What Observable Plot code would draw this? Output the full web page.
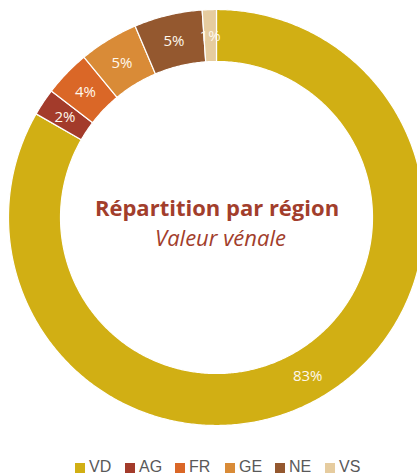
<!DOCTYPE html>
<html>
<head>
<meta charset="utf-8">
<script src="https://cdn.jsdelivr.net/npm/d3@7"></script>
<script src="https://cdn.jsdelivr.net/npm/@observablehq/plot@0.6"></script>
<style>
  html, body { margin: 0; padding: 0; background: #fff; }
  #chart svg { display: block; }
  #legend { display: flex; justify-content: flex-start; padding-top: 17px; padding-left: 75px;
            font-family: "Liberation Sans", Arial, sans-serif; font-size: 16px; line-height: 20px; color: #595959; }
  #legend .item { display: flex; align-items: center; width: 50px; }
  #legend .sw { width: 10px; height: 10px; margin-right: 4px; margin-top: 1px; flex: none; }
</style>
</head>
<body>
<div id="chart"></div>
<div id="legend"></div>
<script>
// ---- data ----
const regions = ["VD", "AG", "FR", "GE", "NE", "VS"];
const shares = [83.3, 2.1, 3.6, 4.6, 5.3, 1.1];
const colors = ["#D1AF14", "#A33B2B", "#DA6727", "#D98B37", "#94582F", "#E6CC9F"];
const title = "Répartition par région";
const subtitle = "Valeur vénale";

// ---- layout ----
const W = 417, H = 440;
const cx = 216, cy = 217, rOuter = 208, rInner = 156;

const data = regions.map((r, i) => ({region: r, value: shares[i]}));
const arcs = d3.pie().sort(null).value(d => d.value)(data);

const pt = (a, r) => ({x: cx + r * Math.sin(a), y: cy - r * Math.cos(a)});
const polys = [];
for (const a of arcs) {
  const n = Math.max(4, Math.ceil((a.endAngle - a.startAngle) / (Math.PI / 360)));
  for (let k = 0; k <= n; k++) {
    const ang = a.startAngle + (a.endAngle - a.startAngle) * k / n;
    polys.push({region: a.data.region, ...pt(ang, rOuter)});
  }
  for (let k = n; k >= 0; k--) {
    const ang = a.startAngle + (a.endAngle - a.startAngle) * k / n;
    polys.push({region: a.data.region, ...pt(ang, rInner)});
  }
}
const labels = arcs.map(a => ({
  region: a.data.region,
  text: Math.round(a.data.value) + "%",
  ...pt((a.startAngle + a.endAngle) / 2, (rOuter + rInner) / 2)
}));

const font = "'Open Sans', Lato, sans-serif";
const chart = Plot.plot({
  width: W, height: H, margin: 0,
  x: {domain: [0, W], range: [0, W], axis: null},
  y: {domain: [0, H], range: [0, H], axis: null},
  color: {domain: regions, range: colors},
  style: {background: "#fff"},
  marks: [
    Plot.line(polys, {x: "x", y: "y", z: "region", fill: "region", stroke: "#fff", strokeWidth: 1.2, curve: "linear-closed"}),
    Plot.text(labels, {x: "x", y: "y", dy: 1, text: "text", fill: "#FFF8EC", fontSize: 15, fontFamily: font}),
    Plot.text([title], {frameAnchor: "middle", dx: 8, dy: -12, text: d => d, fill: "#A23E2C", fontSize: 22, fontWeight: "bold", fontFamily: font}),
    Plot.text([subtitle], {frameAnchor: "middle", dx: 11.5, dy: 18, text: d => d, fill: "#A23E2C", fontSize: 22, fontStyle: "italic", fontFamily: font})
  ]
});
document.getElementById("chart").append(chart);

const legend = d3.select("#legend");
regions.forEach((r, i) => {
  const it = legend.append("div").attr("class", "item");
  it.append("div").attr("class", "sw").style("background", colors[i]);
  it.append("span").text(r);
});
</script>
</body>
</html>
